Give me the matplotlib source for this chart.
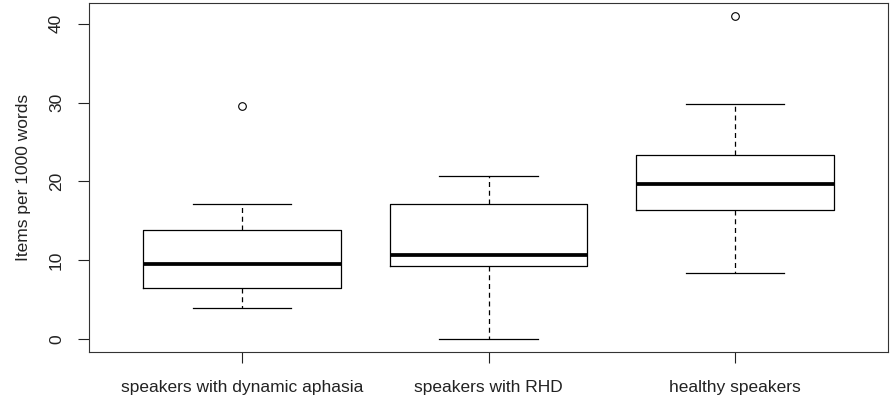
import matplotlib
matplotlib.use("Agg")
import matplotlib.pyplot as plt

plt.rcParams['font.family'] = ['Liberation Sans', 'DejaVu Sans']

groups = ['speakers with dynamic aphasia', 'speakers with RHD', 'healthy speakers']
whislo = [3.9, 0.0, 8.4]
q1 = [6.5, 9.3, 16.4]
med = [9.5, 10.7, 19.7]
q3 = [13.8, 17.1, 23.3]
whishi = [17.1, 20.7, 29.8]
outliers = [[29.6], [], [41.0]]

stats = []
for i, name in enumerate(groups):
    stats.append(dict(label=name, whislo=whislo[i], q1=q1[i], med=med[i],
                      q3=q3[i], whishi=whishi[i], fliers=outliers[i]))

fig = plt.figure(figsize=(8.9, 4.0), dpi=100)
ax = fig.add_axes([89/890, 1 - 352/400, (888 - 89)/890, (352 - 3)/400])

ax.bxp(stats, positions=[1, 2, 3], widths=0.8, patch_artist=False,
       boxprops=dict(color='black', lw=0.9),
       medianprops=dict(color='black', lw=2.7, solid_capstyle='butt'),
       whiskerprops=dict(color='black', lw=0.9, ls=(0, (4, 3))),
       capprops=dict(color='black', lw=0.9),
       capwidths=0.4,
       flierprops=dict(marker='o', markerfacecolor='none', markeredgecolor='black',
                       markersize=5.5, markeredgewidth=0.8))

ax.set_xlim(0.38, 3.62)
ax.set_ylim(-1.64, 42.64)
ax.set_yticks([0, 10, 20, 30, 40])
ax.set_yticklabels(['0', '10', '20', '30', '40'], rotation=90, va='center')
ax.set_xticks([1, 2, 3])
ax.set_xticklabels(groups)
ax.tick_params(axis='both', labelsize=12.5, length=8, width=0.8, colors='#222222')
ax.tick_params(axis='x', pad=12)
ax.tick_params(axis='y', pad=10)
ax.set_ylabel('Items per 1000 words', fontsize=12.5, labelpad=13, color='#222222')
for s in ax.spines.values():
    s.set_linewidth(0.8)
    s.set_color('#333333')

fig.savefig('out.png', dpi=100)
